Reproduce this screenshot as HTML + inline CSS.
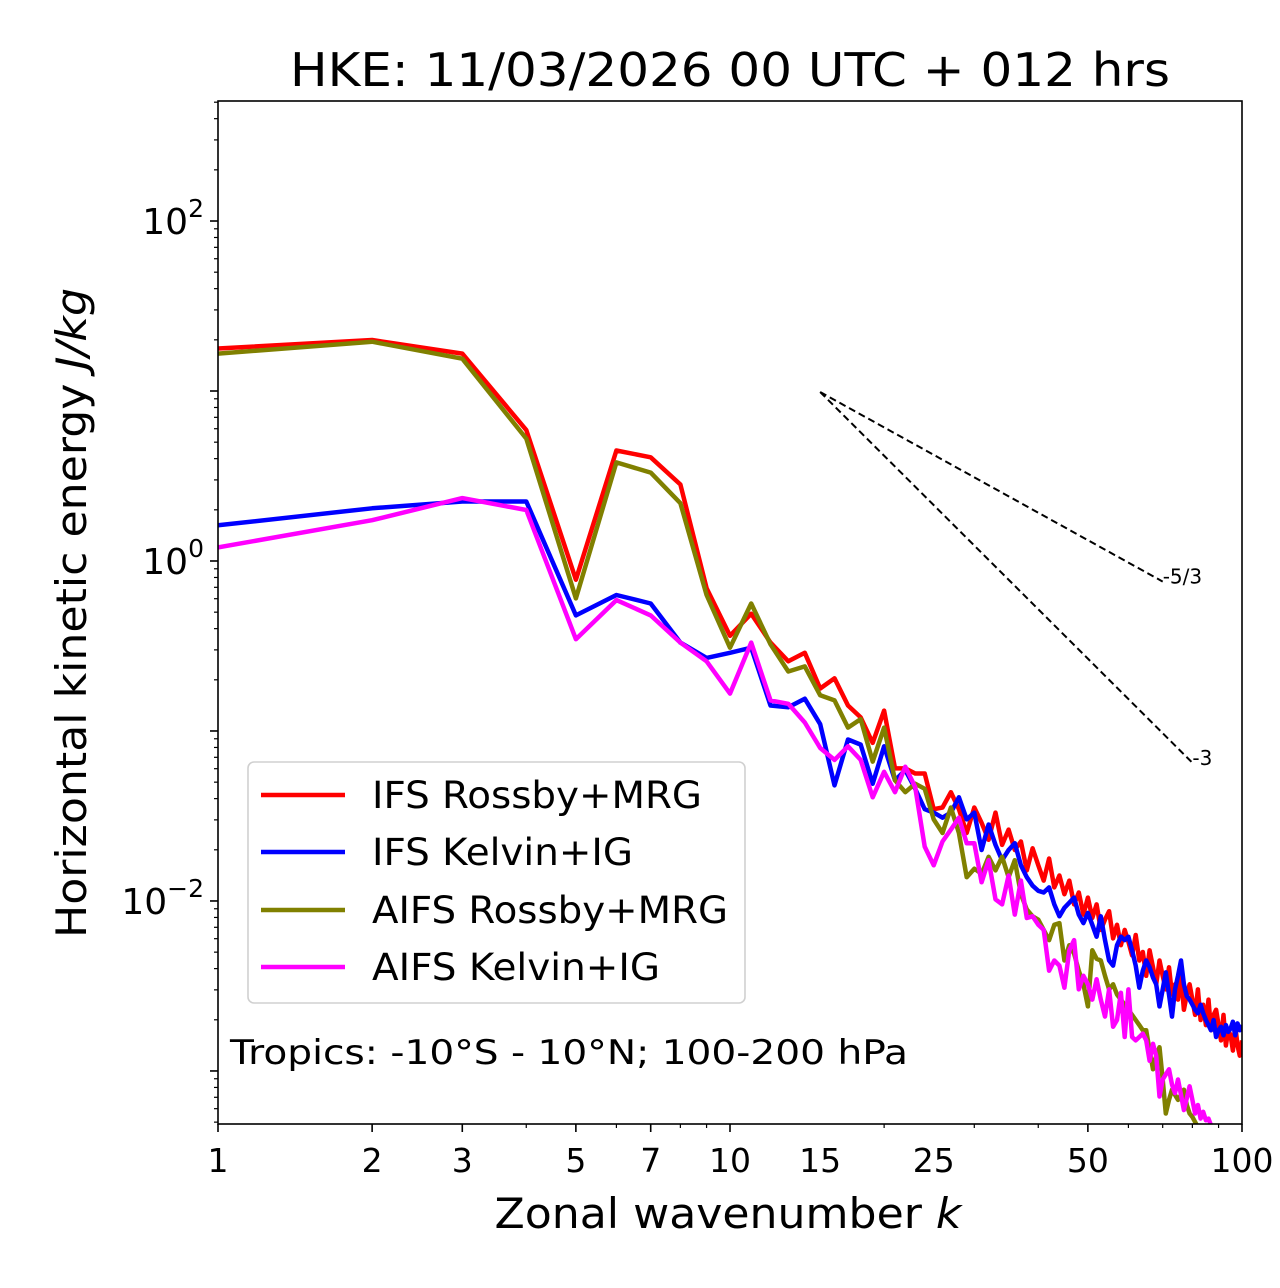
<!DOCTYPE html>
<html><head><meta charset="utf-8"><style>
html,body{margin:0;padding:0;background:#fff;}
svg{display:block;font-family:"DejaVu Sans","Liberation Sans",sans-serif;}
</style></head><body>
<svg id="chart" width="1280" height="1288" viewBox="0 0 1280 1288" xmlns="http://www.w3.org/2000/svg">
<rect width="1280" height="1288" fill="#fff"/>
<defs><clipPath id="plotclip"><rect x="218" y="101" width="1024" height="1023"/></clipPath></defs>
<text x="730" y="86" font-size="46" text-anchor="middle" textLength="880" lengthAdjust="spacingAndGlyphs">HKE: 11/03/2026 00 UTC + 012 hrs</text>
<g id="axes"></g>
<g id="series" clip-path="url(#plotclip)"></g>
<g id="refs"></g>
<rect x="218" y="101" width="1024" height="1023" fill="none" stroke="#000" stroke-width="1.6"/>
<text x="728" y="1228" font-size="42" text-anchor="middle" textLength="467" lengthAdjust="spacingAndGlyphs">Zonal wavenumber <tspan font-style="italic">k</tspan></text>
<text transform="translate(86,613) rotate(-90)" font-size="42" text-anchor="middle" textLength="650" lengthAdjust="spacingAndGlyphs">Horizontal kinetic energy <tspan font-style="italic">J/kg</tspan></text>
<g>
<rect x="248" y="762" width="497" height="241" rx="6" fill="#fff" fill-opacity="0.85" stroke="#d0d0d0" stroke-width="1.6"/>
<g><line x1="261" y1="795" x2="345" y2="795" stroke="#ff0000" stroke-width="4.5"/><text x="372" y="808" font-size="37" textLength="330" lengthAdjust="spacingAndGlyphs">IFS Rossby+MRG</text></g>
<g><line x1="261" y1="852" x2="345" y2="852" stroke="#0000ff" stroke-width="4.5"/><text x="372" y="865" font-size="37" textLength="261" lengthAdjust="spacingAndGlyphs">IFS Kelvin+IG</text></g>
<g><line x1="261" y1="910" x2="345" y2="910" stroke="#808000" stroke-width="4.5"/><text x="372" y="923" font-size="37" textLength="356" lengthAdjust="spacingAndGlyphs">AIFS Rossby+MRG</text></g>
<g><line x1="261" y1="967" x2="345" y2="967" stroke="#ff00ff" stroke-width="4.5"/><text x="372" y="980" font-size="37" textLength="288" lengthAdjust="spacingAndGlyphs">AIFS Kelvin+IG</text></g>
</g>
<text x="230" y="1064" font-size="34" textLength="678" lengthAdjust="spacingAndGlyphs">Tropics: -10°S - 10°N; 100-200 hPa</text>
</svg>
<script>
// log10 of HKE (J/kg) for wavenumbers k = 1..100
const ifsRossbyLog10 = [1.25,1.30,1.22,0.77,-0.11,0.65,0.61,0.45,-0.16,-0.44,-0.31,-0.48,-0.59,-0.54,-0.75,-0.69,-0.85,-0.92,-1.07,-0.88,-1.22,-1.22,-1.25,-1.25,-1.46,-1.45,-1.36,-1.46,-1.60,-1.45,
-1.54,-1.64,-1.48,-1.67,-1.58,-1.70,-1.65,-1.82,-1.69,-1.79,-1.88,-1.75,-1.92,-1.85,-1.96,-1.88,-2.02,-1.95,-2.08,-1.98,
-2.10,-2.02,-2.17,-2.11,-2.06,-2.22,-2.14,-2.26,-2.17,-2.24,-2.32,-2.20,-2.35,-2.30,-2.44,-2.29,-2.39,-2.49,-2.35,-2.44,
-2.52,-2.39,-2.55,-2.49,-2.58,-2.44,-2.64,-2.55,-2.49,-2.58,-2.67,-2.52,-2.70,-2.61,-2.73,-2.58,-2.76,-2.67,-2.64,-2.73,
-2.82,-2.67,-2.85,-2.76,-2.79,-2.88,-2.73,-2.85,-2.91,-2.82];
const ifsKelvinLog10 = [0.21,0.31,0.35,0.35,-0.32,-0.20,-0.25,-0.48,-0.57,-0.54,-0.51,-0.85,-0.86,-0.81,-0.96,-1.32,-1.05,-1.08,-1.31,-1.09,-1.29,-1.23,-1.34,-1.46,-1.48,-1.51,-1.48,-1.39,-1.52,-1.48,
-1.70,-1.55,-1.67,-1.76,-1.70,-1.66,-1.79,-1.86,-1.91,-1.94,-1.95,-1.92,-2.02,-2.09,-2.04,-2.01,-1.98,-2.08,-2.13,-2.07,
-2.14,-2.21,-2.09,-2.23,-2.35,-2.38,-2.26,-2.21,-2.23,-2.21,-2.29,-2.38,-2.51,-2.41,-2.35,-2.39,-2.45,-2.49,-2.62,-2.52,
-2.42,-2.55,-2.68,-2.52,-2.44,-2.35,-2.49,-2.56,-2.58,-2.61,-2.64,-2.66,-2.61,-2.66,-2.70,-2.73,-2.76,-2.70,-2.80,-2.76,
-2.74,-2.79,-2.73,-2.77,-2.75,-2.71,-2.79,-2.72,-2.76,-2.73];
const aifsRossbyLog10 = [1.22,1.29,1.19,0.72,-0.22,0.58,0.52,0.34,-0.20,-0.51,-0.25,-0.49,-0.65,-0.62,-0.79,-0.82,-0.98,-0.93,-1.18,-0.98,-1.29,-1.36,-1.31,-1.34,-1.52,-1.60,-1.45,-1.60,-1.86,-1.81,
-1.84,-1.74,-1.82,-1.74,-1.86,-1.76,-1.96,-2.05,-2.09,-2.11,-2.17,-2.23,-2.14,-2.13,-2.35,-2.26,-2.31,-2.41,-2.49,-2.62,
-2.29,-2.34,-2.35,-2.44,-2.52,-2.49,-2.55,-2.58,-2.61,-2.64,-2.67,-2.70,-2.73,-2.76,-2.76,-2.88,-2.99,-2.91,-2.86,-3.05,
-3.25,-3.17,-3.11,-3.14,-3.17,-3.14,-3.11,-3.20,-3.25,-3.27,-3.30,-3.33,-3.36,-3.38,-3.40,-3.42,-3.45,-3.47,-3.49,-3.51,
-3.53,-3.55,-3.57,-3.59,-3.61,-3.63,-3.65,-3.67,-3.69,-3.71];
const aifsKelvinLog10 = [0.08,0.24,0.37,0.30,-0.46,-0.23,-0.32,-0.48,-0.59,-0.78,-0.48,-0.82,-0.84,-0.95,-1.10,-1.17,-1.09,-1.17,-1.39,-1.24,-1.36,-1.21,-1.33,-1.68,-1.79,-1.65,-1.58,-1.51,-1.66,-1.66,
-1.89,-1.76,-1.99,-2.02,-1.85,-2.08,-1.88,-2.10,-2.09,-2.14,-2.17,-2.41,-2.35,-2.38,-2.51,-2.29,-2.23,-2.52,-2.44,-2.49,
-2.58,-2.46,-2.58,-2.68,-2.52,-2.74,-2.70,-2.54,-2.80,-2.52,-2.80,-2.82,-2.80,-2.78,-2.82,-2.94,-2.84,-2.91,-3.15,-3.05,
-3.02,-2.99,-3.08,-3.13,-3.05,-3.14,-3.23,-3.16,-3.09,-3.17,-3.25,-3.20,-3.28,-3.24,-3.29,-3.28,-3.32,-3.35,-3.34,-3.41,
-3.38,-3.44,-3.46,-3.49,-3.51,-3.54,-3.57,-3.59,-3.61,-3.64];
const xTickValues = [1,2,3,5,7,10,15,25,50,100];
const xTickLabels = ["1","2","3","5","7","10","15","25","50","100"];
const yTickExponents = [2,0,-2];
const refStartK = [15];
const refStartLog10 = [0.994];
const refEndK = [70,80];
const refSlopes = [-5/3,-3];
const refLabels = ["-5/3","-3"];

const X0=218, X1=1242, YT=101, YB=1124;
const XMIN=0, XMAX=2;
const YMAX=2.706, YMIN=-3.312;
function xs(k){return X0+(Math.log10(k)-XMIN)/(XMAX-XMIN)*(X1-X0);}
function ysL(L){return YT+(YMAX-L)/(YMAX-YMIN)*(YB-YT);}
const NS="http://www.w3.org/2000/svg";
function mk(tag,attrs,parent){const e=document.createElementNS(NS,tag);for(const a in attrs)e.setAttribute(a,attrs[a]);parent.appendChild(e);return e;}

const axes=document.getElementById('axes');
for(let d=0; d<2; d++){for(let m=1;m<=9;m++){const k=m*Math.pow(10,d);if(k>100)break;
  const major=xTickValues.includes(k);
  const t=mk('line',{x1:xs(k),x2:xs(k),y1:YB,y2:YB+(major?8:4),stroke:'#000','stroke-width':major?1.6:1.2},axes);
  
  
}}
{const t=mk('line',{x1:xs(100),x2:xs(100),y1:YB,y2:YB+8,stroke:'#000','stroke-width':1.6},axes);}
xTickValues.forEach((k,i)=>{
  const t=mk('text',{x:xs(k),y:YB+48,'font-size':33,'text-anchor':'middle'},axes);
  t.textContent=xTickLabels[i];
  
  
});
for(let e=-4;e<=3;e++){for(let m=1;m<=9;m++){const L=e+Math.log10(m);if(L<YMIN||L>YMAX)continue;
  const major=(m===1);
  const t=mk('line',{x1:X0-(major?8:4),x2:X0,y1:ysL(L),y2:ysL(L),stroke:'#000','stroke-width':major?1.6:1.2},axes);
  
  
}}
yTickExponents.forEach(e=>{
  const t=mk('text',{x:X0-14,y:ysL(e)+13,'font-size':36,'text-anchor':'end'},axes);
  
  
  const sup=(e<0?'\u2212':'')+Math.abs(e);
  t.innerHTML='10<tspan dy="-17" font-size="25">'+sup+'</tspan>';
});
const series=document.getElementById('series');
const defs=[[ifsRossbyLog10,'#ff0000','ifs-rossby-line'],[ifsKelvinLog10,'#0000ff','ifs-kelvin-line'],[aifsRossbyLog10,'#808000','aifs-rossby-line'],[aifsKelvinLog10,'#ff00ff','aifs-kelvin-line']];
defs.forEach(([arr,col,name])=>{
  const pts=arr.map((L,i)=>xs(i+1).toFixed(1)+','+ysL(L).toFixed(1)).join(' ');
  const p=mk('polyline',{points:pts,fill:'none',stroke:col,'stroke-width':4.5,'stroke-linejoin':'round'},series);
  
  
});
const refs=document.getElementById('refs');
refSlopes.forEach((s,i)=>{
  const k0=refStartK[0], L0=refStartLog10[0], k1=refEndK[i];
  const L1=L0+s*(Math.log10(k1)-Math.log10(k0));
  const l=mk('line',{x1:xs(k0),y1:ysL(L0),x2:xs(k1),y2:ysL(L1),stroke:'#000','stroke-width':2,'stroke-dasharray':'7,4'},refs);
  
  
  const t=mk('text',{x:xs(k1),y:ysL(L1)+2,'font-size':20},refs);
  t.textContent=refLabels[i];
  
  
});
</script>
</body></html>
